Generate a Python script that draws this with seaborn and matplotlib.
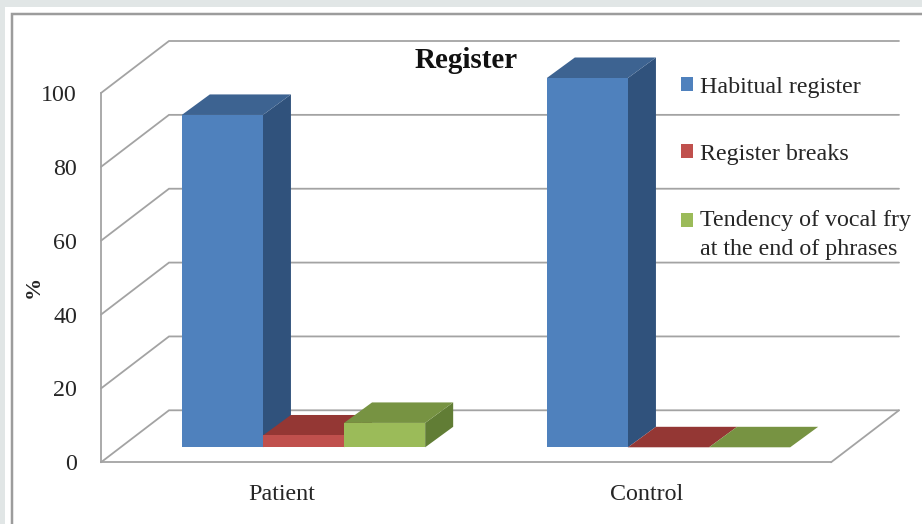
import matplotlib
matplotlib.use("Agg")
import matplotlib.pyplot as plt
from matplotlib.patches import Rectangle, Polygon
from matplotlib.transforms import ScaledTranslation
import pandas as pd
import seaborn as sns

# Chart values
GROUPS = ["Patient", "Control"]
SERIES = ["Habitual register", "Register breaks", "Tendency of vocal fry\nat the end of phrases"]
HABITUAL = [90, 100]
BREAKS = [3.2, 0]
VOCAL_FRY = [6.6, 0]
Y_TICKS = [0, 20, 40, 60, 80, 100]

FRONT_COLORS = ["#4F81BD", "#C0504D", "#9BBB59"]
TOP_COLORS = ["#3D6391", "#943734", "#779342"]
SIDE_COLORS = ["#30527C", "#7A2D2B", "#617D35"]
LINE = "#A3A3A3"
TEXT = "#262626"

W, H = 922, 524
PX = 72 / 100  # points per pixel at 100 dpi

sns.set_theme(style="white")
plt.rcParams["font.family"] = ["Liberation Serif", "DejaVu Serif"]
plt.rcParams["text.color"] = TEXT
plt.rcParams["axes.labelcolor"] = TEXT
plt.rcParams["xtick.color"] = TEXT
plt.rcParams["ytick.color"] = TEXT

fig = plt.figure(figsize=(W / 100, H / 100), dpi=100, facecolor="#E1E6E6")

# White sheet and the chart-area outline running off the edges, behind the axes
fig.add_artist(Rectangle((5 / W, 0), 1, 1 - 7 / H, transform=fig.transFigure,
                         facecolor="white", edgecolor="none", zorder=-2))
fig.add_artist(Rectangle((11.5 / W, -0.1), 1, 1.1 - 14 / H, transform=fig.transFigure,
                         facecolor="none", edgecolor="#9C9C9C", linewidth=2.5 * PX, zorder=-1))


def axes_px(left, right, top, bottom):
    return fig.add_axes([left / W, 1 - bottom / H, (right - left) / W, (bottom - top) / H],
                        facecolor="none")


# Front plane of the box: carries the value axis and the group labels
left, right, top, bottom = 101, 831, 93, 462.3
ax = axes_px(left, right, top, bottom)
ax.set_xlim(-0.5, 1.5)
ax.set_ylim(0, 100)
ax.set_xticks(range(len(GROUPS)), GROUPS)
ax.set_yticks(Y_TICKS)
ax.tick_params(axis="y", length=8 * PX, width=1.8 * PX, color=LINE, pad=16 * PX, labelsize=17.3)
ax.tick_params(axis="x", length=0, pad=22 * PX, labelsize=17.3)
nudge = ScaledTranslation(-2 / 100, 0, fig.dpi_scale_trans)
for label in ax.get_xticklabels():
    label.set_transform(label.get_transform() + nudge)
for name in ("top", "right"):
    ax.spines[name].set_visible(False)
for name in ("left", "bottom"):
    ax.spines[name].set_color(LINE)
    ax.spines[name].set_linewidth(1.8 * PX)
ax.set_ylabel("%", fontweight="bold", fontsize=16)
ax.yaxis.set_label_coords((44 - left) / (right - left), 0.475)
ax.set_title("Register", fontweight="bold", fontsize=21, color="#111111", pad=25 * PX)

# Oblique projection of the box: depth expressed in axis units
unit_x = (right - left) / 2
unit_y = (bottom - top) / 100
wall_dx, wall_dy = 68 / unit_x, 52 / unit_y
xmin, xmax = ax.get_xlim()
for tick in Y_TICKS:
    ax.plot([xmin, xmin + wall_dx, xmax + wall_dx],
            [tick, tick + wall_dy, tick + wall_dy],
            color=LINE, lw=1.8 * PX, clip_on=False, zorder=1,
            solid_joinstyle="miter")
ax.plot([xmax, xmax + wall_dx], [0, wall_dy], color=LINE, lw=1.8 * PX, clip_on=False, zorder=1)

# Bars stand on a plane part of the way into the box
shift_x, shift_y = 20, 15
ax_bars = axes_px(left + shift_x, right + shift_x, top - shift_y, bottom - shift_y)

data = pd.DataFrame({
    "group": GROUPS * 3,
    "series": [s for s in SERIES for _ in GROUPS],
    "value": HABITUAL + BREAKS + VOCAL_FRY,
})
sns.barplot(data=data, x="group", y="value", hue="series", hue_order=SERIES,
            palette=FRONT_COLORS, saturation=1, width=2 / 3, gap=0, linewidth=0,
            ax=ax_bars, zorder=10, clip_on=False)
ax_bars.set_xlim(-0.5, 1.5)
ax_bars.set_ylim(0, 100)

# Top and side faces follow from each front face, later series over earlier ones
bar_dx, bar_dy = 28 / unit_x, 20.5 / unit_y
for order, container in enumerate(ax_bars.containers):
    for bar in container:
        x0, x1 = bar.get_x(), bar.get_x() + bar.get_width()
        h = bar.get_height()
        ax_bars.add_patch(Polygon(
            [(x1, 0), (x1 + bar_dx, bar_dy), (x1 + bar_dx, h + bar_dy), (x1, h)],
            facecolor=SIDE_COLORS[order], edgecolor="none", clip_on=False, zorder=2 + order))
        ax_bars.add_patch(Polygon(
            [(x0, h), (x0 + bar_dx, h + bar_dy), (x1 + bar_dx, h + bar_dy), (x1, h)],
            facecolor=TOP_COLORS[order], edgecolor="none", clip_on=False, zorder=2 + order))

handles, labels = ax_bars.get_legend_handles_labels()
legend = ax_bars.legend(handles, labels, frameon=False, fontsize=17.3,
                        loc="upper left", bbox_to_anchor=(681 / W, 1 - 77 / H),
                        bbox_transform=fig.transFigure, borderaxespad=0, borderpad=0,
                        handlelength=0.52, handleheight=0.52, handletextpad=0.28,
                        labelspacing=1.9)
legend.get_texts()[2].set_linespacing(1.48)
# The swatch sits beside the first line of the wrapped label
legend.get_patches()[2].set_y(legend.get_patches()[2].get_y() + 10.5)

ax_bars.set_axis_off()
fig.savefig("out.png", dpi=100, facecolor=fig.get_facecolor())
